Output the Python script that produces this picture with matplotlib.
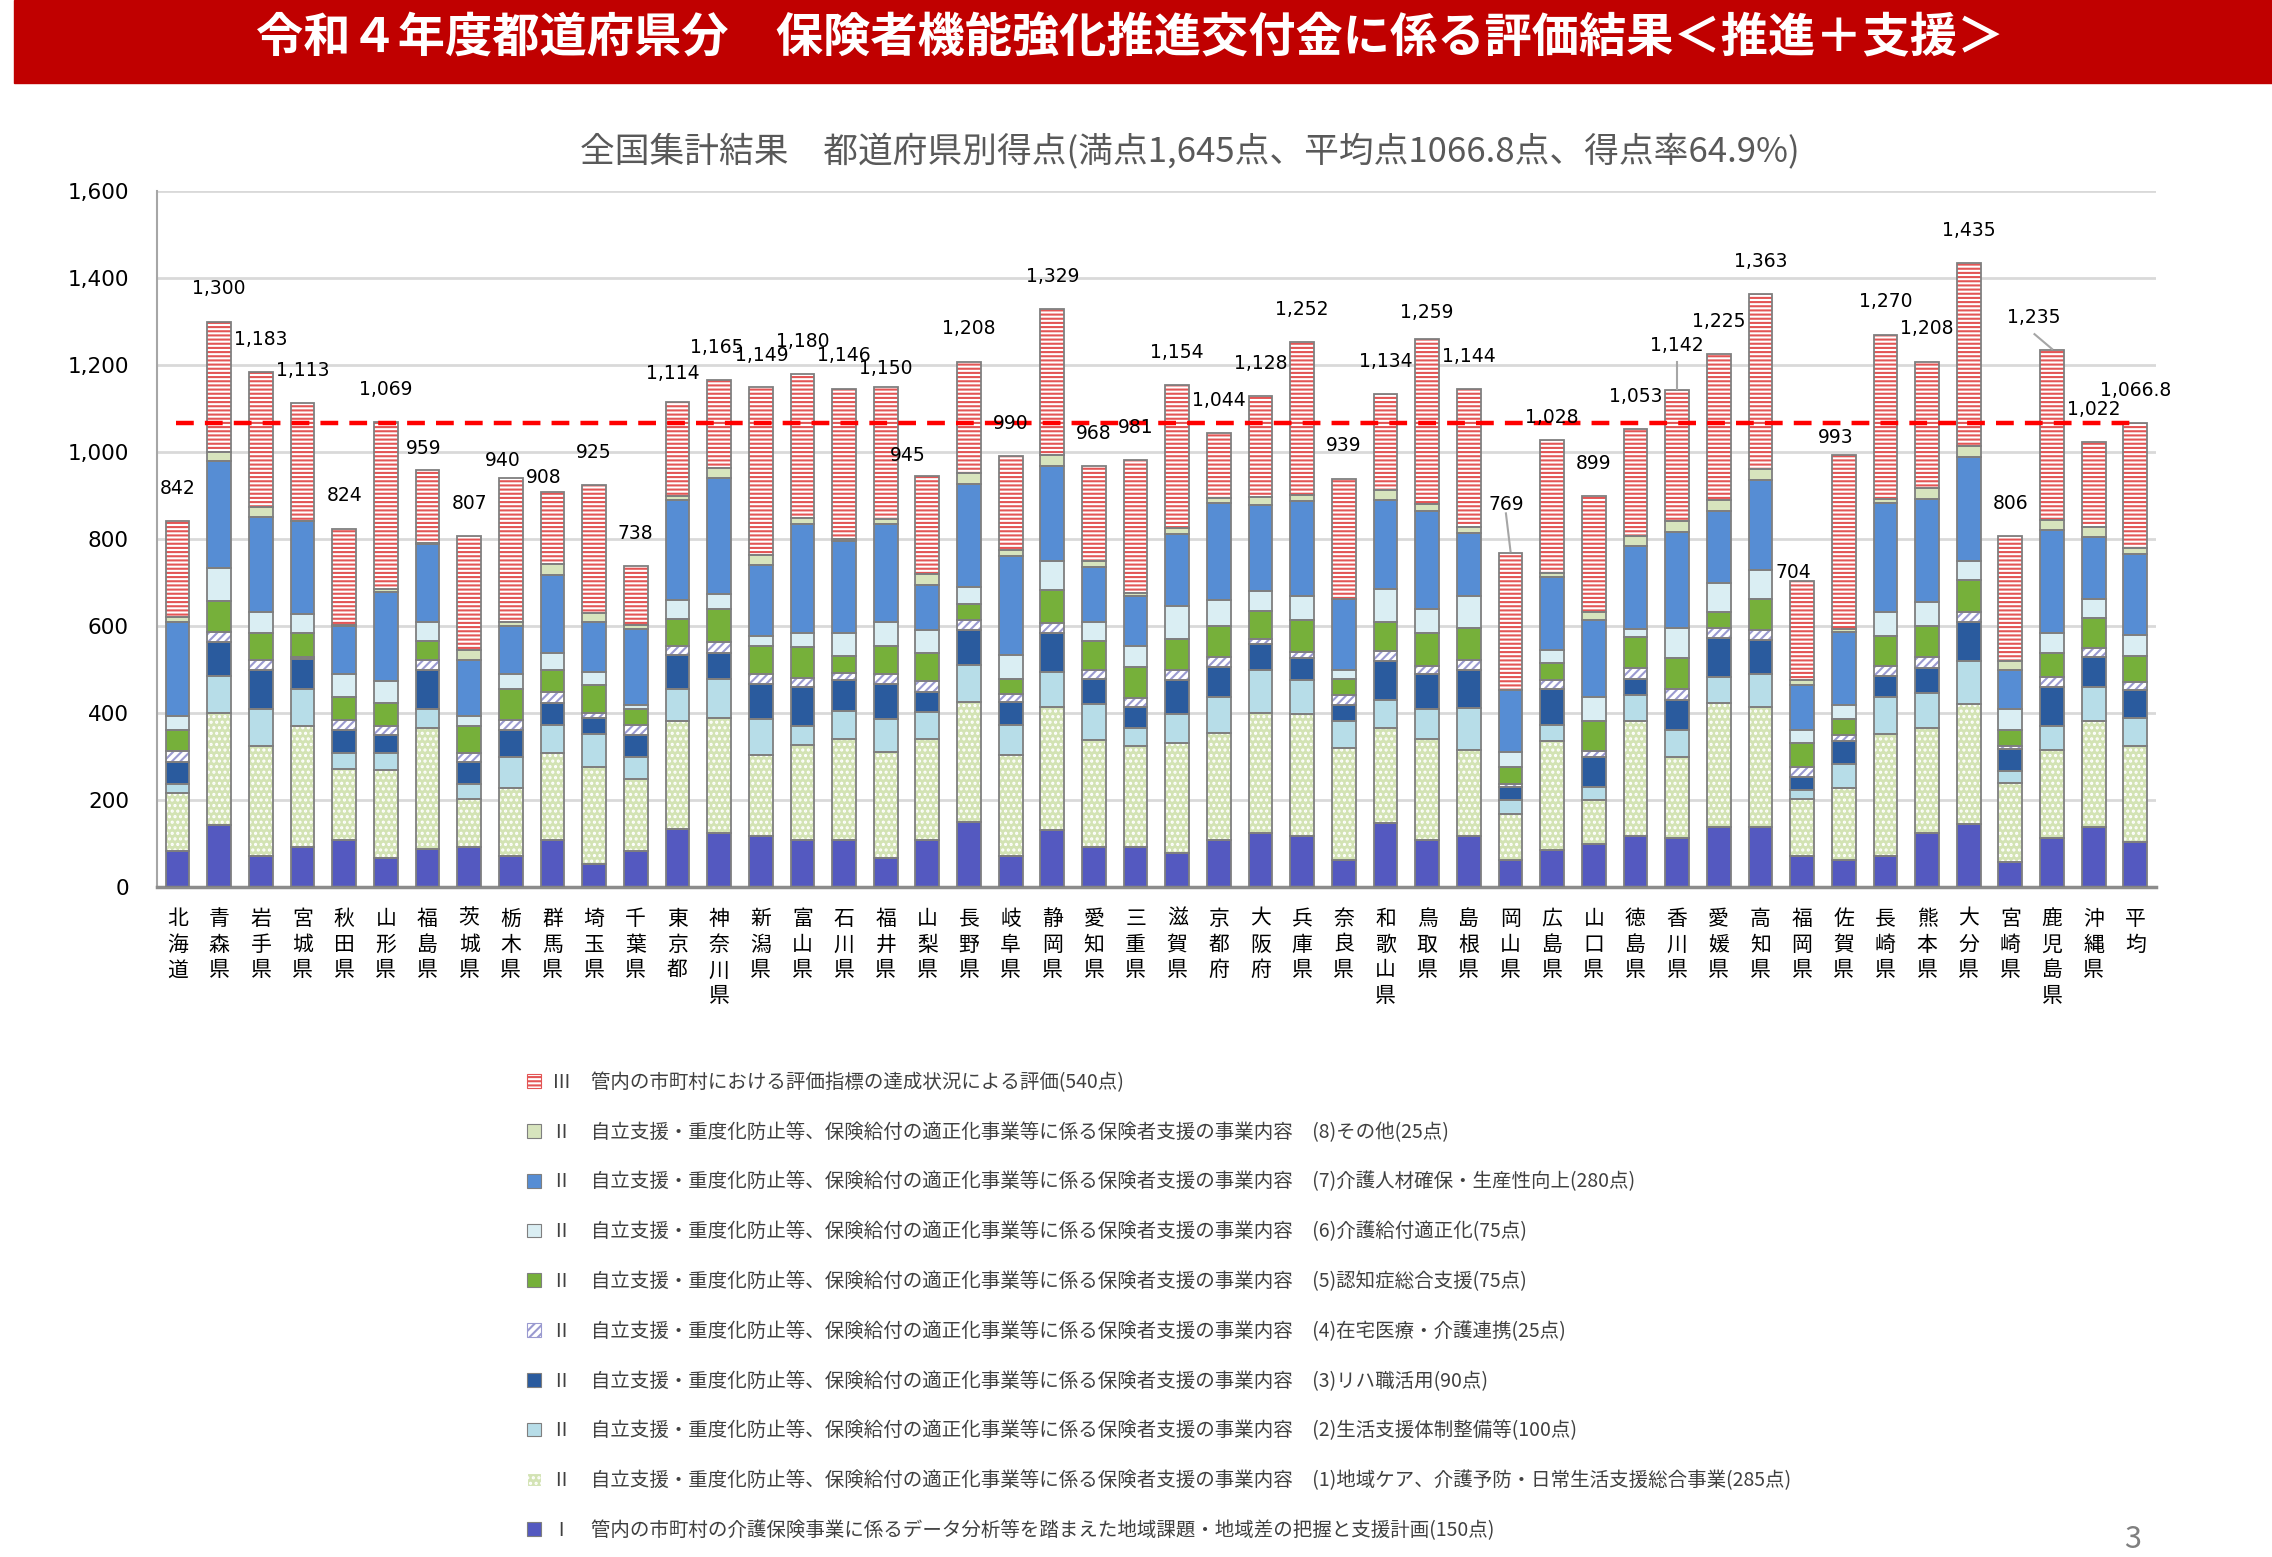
import numpy as np
import matplotlib.pyplot as plt
from matplotlib.patches import Rectangle

plt.rcParams['font.family'] = ['Noto Sans CJK JP', 'DejaVu Sans']
plt.rcParams['hatch.linewidth'] = 1.5

prefs = ['北海道', '青森県', '岩手県', '宮城県', '秋田県', '山形県', '福島県', '茨城県',
         '栃木県', '群馬県', '埼玉県', '千葉県', '東京都', '神奈川県', '新潟県', '富山県',
         '石川県', '福井県', '山梨県', '長野県', '岐阜県', '静岡県', '愛知県', '三重県',
         '滋賀県', '京都府', '大阪府', '兵庫県', '奈良県', '和歌山県', '鳥取県', '島根県',
         '岡山県', '広島県', '山口県', '徳島県', '香川県', '愛媛県', '高知県', '福岡県',
         '佐賀県', '長崎県', '熊本県', '大分県', '宮崎県', '鹿児島県', '沖縄県', '平均']

# segment scores, bottom to top
s_I = [82, 143, 72, 92, 108, 67, 88, 92, 72, 108, 53, 82, 134, 124, 118, 109, 109, 67, 109, 150,
       72, 130, 92, 92, 78, 108, 124, 118, 63, 148, 108, 118, 63, 85, 98, 118, 113, 138, 137, 72,
       63, 72, 124, 145, 58, 113, 137, 103]
s_1 = [135, 257, 253, 278, 164, 201, 277, 111, 155, 201, 224, 167, 247, 265, 186, 217, 232, 243, 232, 275,
       232, 285, 246, 233, 252, 246, 276, 279, 256, 217, 233, 196, 106, 251, 101, 263, 185, 285, 278, 131,
       164, 279, 241, 275, 180, 201, 244, 222]
s_2 = [19, 84, 85, 85, 35, 41, 45, 33, 71, 63, 74, 49, 74, 90, 82, 44, 64, 76, 61, 85,
       69, 80, 82, 40, 67, 82, 100, 79, 62, 65, 69, 98, 30, 37, 30, 60, 64, 60, 74, 21,
       55, 85, 81, 100, 28, 56, 79, 64]
s_3 = [52, 79, 89, 70, 53, 40, 89, 52, 62, 51, 38, 51, 79, 60, 81, 90, 71, 81, 47, 80,
       52, 90, 59, 50, 79, 70, 58, 50, 37, 90, 79, 88, 30, 82, 69, 37, 68, 90, 79, 30,
       54, 48, 58, 90, 51, 90, 69, 64]
s_4 = [24, 24, 24, 4, 24, 22, 24, 19, 24, 25, 11, 23, 19, 25, 22, 21, 16, 22, 25, 23,
       19, 23, 20, 19, 23, 23, 13, 15, 23, 23, 19, 23, 7, 21, 14, 25, 25, 22, 24, 21,
       13, 24, 25, 22, 8, 23, 21, 18]
s_5 = [48, 71, 61, 55, 52, 52, 43, 63, 71, 51, 65, 38, 64, 75, 66, 71, 39, 66, 65, 37,
       35, 75, 67, 72, 72, 72, 64, 74, 37, 67, 75, 72, 41, 40, 69, 71, 71, 37, 71, 55,
       37, 70, 71, 73, 35, 56, 69, 61]
s_6 = [34, 75, 48, 44, 53, 51, 44, 24, 34, 40, 29, 8, 42, 34, 23, 33, 54, 55, 51, 40,
       55, 66, 44, 49, 74, 58, 45, 54, 21, 74, 57, 74, 33, 29, 55, 20, 69, 66, 65, 30,
       32, 54, 56, 44, 50, 46, 44, 48]
s_7 = [216, 247, 219, 213, 111, 205, 178, 127, 111, 178, 116, 176, 231, 268, 162, 250, 210, 225, 105, 237,
       227, 219, 125, 114, 166, 224, 198, 219, 162, 206, 225, 145, 142, 167, 177, 191, 221, 167, 208, 105,
       169, 251, 236, 240, 90, 235, 141, 185]
s_8 = [11, 19, 23, 0, 3, 5, 2, 24, 10, 25, 19, 9, 9, 23, 24, 14, 6, 11, 24, 25,
       13, 25, 14, 8, 14, 11, 18, 13, 2, 23, 16, 13, 0, 9, 19, 21, 25, 25, 25, 11,
       7, 9, 25, 24, 20, 24, 23, 15]
s_III = [221, 301, 309, 272, 221, 385, 169, 262, 330, 166, 296, 135, 215, 201, 385, 331, 345, 304, 226, 256,
         216, 336, 219, 304, 329, 150, 232, 351, 276, 221, 378, 317, 317, 307, 267, 247, 301, 335, 402, 228,
         399, 378, 291, 422, 286, 391, 195, 286.8]

totals = [842, 1300, 1183, 1113, 824, 1069, 959, 807, 940, 908, 925, 738, 1114, 1165, 1149, 1180,
          1146, 1150, 945, 1208, 990, 1329, 968, 981, 1154, 1044, 1128, 1252, 939, 1134, 1259, 1144,
          769, 1028, 899, 1053, 1142, 1225, 1363, 704, 993, 1270, 1208, 1435, 806, 1235, 1022, 1066.8]

head = 'Ⅱ　自立支援・重度化防止等、保険給付の適正化事業等に係る保険者支援の事業内容　'
legend_labels = ['Ⅰ　管内の市町村の介護保険事業に係るデータ分析等を踏まえた地域課題・地域差の把握と支援計画(150点)',
                 head + '(1)地域ケア、介護予防・日常生活支援総合事業(285点)',
                 head + '(2)生活支援体制整備等(100点)',
                 head + '(3)リハ職活用(90点)',
                 head + '(4)在宅医療・介護連携(25点)',
                 head + '(5)認知症総合支援(75点)',
                 head + '(6)介護給付適正化(75点)',
                 head + '(7)介護人材確保・生産性向上(280点)',
                 head + '(8)その他(25点)',
                 'Ⅲ　管内の市町村における評価指標の達成状況による評価(540点)']

# face colour, hatch, hatch colour
styles = [('#5459C0', None, '#5459C0'),
          ('#D3E3B4', '...', 'white'),
          ('#B7DDE8', None, '#B7DDE8'),
          ('#2A5B9E', None, '#2A5B9E'),
          ('white', '////', '#9A9AD0'),
          ('#76B03A', None, '#76B03A'),
          ('#DAEEF3', None, '#DAEEF3'),
          ('#568DD4', None, '#568DD4'),
          ('#D7E4BD', None, '#D7E4BD'),
          ('white', '----', '#E35555')]

series = [s_I, s_1, s_2, s_3, s_4, s_5, s_6, s_7, s_8, s_III]

fig = plt.figure(figsize=(22.72, 15.57), dpi=100)
ax = fig.add_axes([0.069, 0.4303, 0.880, 0.4470])

x = np.arange(len(prefs))
bottom = np.zeros(len(prefs))
w = 0.57
for vals, (face, hatch, hcol) in zip(series, styles):
    vals = np.array(vals, dtype=float)
    ax.bar(x, vals, w, bottom=bottom, color=face, edgecolor=hcol, linewidth=0, hatch=hatch, zorder=2)
    ax.bar(x, vals, w, bottom=bottom, facecolor='none', edgecolor='#7F7F7F', linewidth=1.3, zorder=3)
    bottom += vals

ax.set_xlim(-0.5, len(prefs) - 0.5)
ax.set_ylim(0, 1600)
ax.set_yticks(range(0, 1601, 200))
ax.set_yticklabels([f'{v:,}' for v in range(0, 1601, 200)], fontsize=15.5, family='DejaVu Sans')
ax.set_xticks(x)
ax.set_xticklabels(['\n'.join(p) for p in prefs], fontsize=15, va='top', linespacing=1.22)
ax.tick_params(length=0)
ax.tick_params(axis='x', pad=15)
ax.tick_params(axis='y', pad=20)
ax.yaxis.grid(True, color='#D9D9D9', lw=2)
ax.set_axisbelow(True)
for s in ['top', 'right']:
    ax.spines[s].set_visible(False)
ax.spines['left'].set_color('#A6A6A6')
ax.spines['left'].set_linewidth(1.5)
ax.spines['bottom'].set_color('#8C8C8C')
ax.spines['bottom'].set_linewidth(2.5)

# average line
avg = totals[-1]
ax.plot([x[0] - 0.05, x[-1]], [avg, avg], color='#FF0000', lw=3.2, ls=(0, (4, 2.5)), zorder=5)

# total labels
shift = {6: (-0.1, 48), 8: (-0.2, 41), 9: (-0.2, 33), 12: (-0.1, 67), 13: (-0.05, 75), 14: (0.03, 73),
         17: (0, 41), 18: (-0.48, 48), 30: (0, 61), 32: (-0.11, 111), 33: (0, 52), 36: (0, 102),
         39: (-0.2, 20), 40: (-0.19, 40), 45: (-0.44, 75)}
for i, t in enumerate(totals):
    dx, dy = shift.get(i, (0, 75))
    txt = f'{t:,}' if float(t).is_integer() else f'{t:,.1f}'
    ax.text(i + dx, t + dy, txt, ha='center', va='center', fontsize=13.5, family='DejaVu Sans', zorder=6)

# leader lines
ax.plot([32 - 0.11, 32], [totals[32] + 90, totals[32] + 3], color='#A6A6A6', lw=1.5, zorder=6)
ax.plot([36, 36], [totals[36] + 64, totals[36] + 2], color='#A6A6A6', lw=1.5, zorder=6)
ax.plot([45 - 0.42, 45], [totals[45] + 36, totals[45] + 2], color='#A6A6A6', lw=1.5, zorder=6)

# title banner
fig.add_artist(Rectangle((14 / 2272, 1 - 83 / 1557), 1, 83 / 1557, transform=fig.transFigure,
                         color='#C00000', zorder=0))
fig.text(1130 / 2272, 1 - 38 / 1557, '令和４年度都道府県分　保険者機能強化推進交付金に係る評価結果＜推進＋支援＞',
         color='white', fontsize=34, fontweight='bold', ha='center', va='center')
fig.text(1190 / 2272, 1 - 152 / 1557, '全国集計結果　都道府県別得点(満点1,645点、平均点1066.8点、得点率64.9%)',
         color='#595959', fontsize=25, ha='center', va='center')

# legend
handles = []
for face, hatch, hcol in styles:
    handles.append(Rectangle((0, 0), 1, 1, facecolor=face, hatch=hatch,
                             edgecolor=hcol if hatch else '#7F7F7F', lw=0.8))
leg = fig.legend(handles[::-1], legend_labels[::-1], loc='upper left', bbox_to_anchor=(0.232, 0.3115),
                 frameon=False, fontsize=14, labelspacing=1.48, handlelength=0.7, handleheight=0.7,
                 handletextpad=0.6, borderaxespad=0, borderpad=0)
for t in leg.get_texts():
    t.set_color('#404040')

fig.text(2133 / 2272, 1 - 1539 / 1557, '3', color='#7F7F7F', fontsize=22, ha='center', va='center')

fig.savefig('out.png', dpi=100)
